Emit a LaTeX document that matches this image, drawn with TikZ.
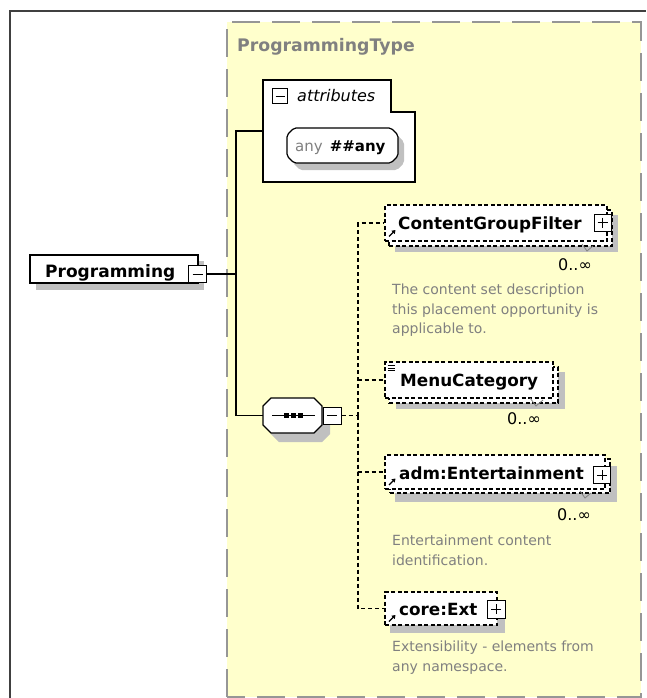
\documentclass[tikz,border=0pt]{standalone}
\usepackage{fontspec}
\setmainfont{DejaVu Sans}
\usetikzlibrary{calc,arrows.meta}
\definecolor{ylw}{RGB}{255,255,204}
\definecolor{shd}{RGB}{192,192,192}
\definecolor{gtx}{RGB}{128,128,128}
\definecolor{frm}{RGB}{150,150,150}
\newcommand\xoct[5]{({#1+#5},#2) -- ({#3-#5},#2) -- (#3,{#2+#5}) -- (#3,{#4-#5}) -- ({#3-#5},#4) -- ({#1+#5},#4) -- (#1,{#4-#5}) -- (#1,{#2+#5}) -- cycle}
\tikzset{
  box/.style={draw=black, fill=white, line width=1.2pt, inner sep=0pt, rectangle},
  optbox/.style={box, dash pattern=on 4pt off 2.5pt},
  ename/.style={font=\fontsize{16.8}{18}\selectfont\bfseries, text=black, inner sep=0pt, anchor=base west},
  desc/.style={font=\fontsize{14}{19.5}\selectfont, text=gtx, align=left, inner sep=0pt, anchor=north west},
  card/.style={font=\fontsize{16}{18}\selectfont, text=black, inner sep=0pt, anchor=base west},
  conn/.style={draw=black, line width=1.2pt},
  dconn/.style={conn, dash pattern=on 4pt off 3pt},
  pm/.style={draw=black, fill=white, line width=1pt, inner sep=0pt, rectangle},
  pmline/.style={draw=black, line width=1pt},
  icon/.style={line width=1.3pt, -{Triangle[length=3.5pt,width=4.5pt]}},
  tick/.style={draw=gray, line width=0.8pt},
}
\begin{document}
\begin{tikzpicture}[x=1pt,y=-1pt]
\useasboundingbox (0,0) rectangle (646,698);
\fill[white] (0,0) rectangle (646,698);
% outer frame
\draw[black!75, line width=1.5pt] (10,698) -- (10,11) -- (646,11);
% complex type area
\fill[ylw] (227,22) rectangle (641,697);
\draw[frm, line width=1.5pt, dash pattern=on 28pt off 12pt] (227,697) -- (227,22) -- (641,22) -- (641,697) -- cycle;
\node[font=\fontsize{17.3}{19}\selectfont\bfseries, text=gtx, anchor=base west, inner sep=0pt] (title) at (237,52) {ProgrammingType};

% attributes box
\draw[fill=white, line width=1.2pt] (263,80) -- (391,80) -- (391,112) -- (415,112) -- (415,182) -- (263,182) -- cycle;
\node[inner sep=0pt, minimum width=152pt, minimum height=102pt] (attr) at (339,131) {};
\node[pm, minimum width=15pt, minimum height=15pt] (attrm) at (280,96.5) {};
\draw[pmline] ($(attrm.center)+(-4.5,0)$) -- ($(attrm.center)+(4.5,0)$);
\node[font=\fontsize{16}{18}\selectfont\itshape, anchor=base west, inner sep=0pt] (attrt) at (297,102) {attributes};
% any ##any
\fill[shd, rounded corners=2pt] \xoct{293}{135}{404}{170}{7};
\draw[fill=white, line width=1.2pt, rounded corners=2pt] \xoct{287}{128}{398}{163}{7};
\node[font=\fontsize{15}{17}\selectfont, anchor=base west, inner sep=0pt] (anyt) at (295,151) {\textcolor{gtx}{any}\hspace{7pt}\textbf{\#\#any}};

% Programming element
\fill[shd] (36,261) rectangle (204,290);
\node[box, minimum width=168pt, minimum height=28pt] (prog) at (114,269) {};
\node[font=\fontsize{17}{18}\selectfont\bfseries, anchor=base west, inner sep=0pt] (progt) at (45,277) {Programming};
\node[pm, minimum width=18pt, minimum height=17pt] (progm) at (197.5,274) {};
\draw[pmline] ($(progm.center)+(-5,0)$) -- ($(progm.center)+(5,0)$);

% sequence compositor
\fill[shd] \xoct{271}{407}{330}{442}{8};
\draw[fill=white, line width=1.2pt] \xoct{263}{398}{322}{433}{8};
\node[inner sep=0pt, minimum width=59pt, minimum height=35pt] (seq) at (292.5,415.5) {};
\draw[line width=1.2pt] (272,415.5) -- (315,415.5);
\foreach \cx in {286,293,300} \fill (\cx-2.5,413) rectangle (\cx+2.5,418);
\node[pm, minimum width=18pt, minimum height=17pt] (seqm) at (332,415.5) {};
\draw[pmline] ($(seqm.center)+(-5,0)$) -- ($(seqm.center)+(5,0)$);

% tree connectors
\coordinate (tj) at (236,274);
\draw[conn] (progm.east) -- (tj);
\draw[conn] (attr.west) -| (tj) |- (seq.west);

% ContentGroupFilter
\fill[shd] (395,215) rectangle (618,252);
\node[optbox, minimum width=223pt, minimum height=36pt] (cgfb) at (500.5,228) {};
\node[optbox, minimum width=222pt, minimum height=36pt] (cgf) at (496,223) {};
\node[ename] (cgft) at (398,229.5) {ContentGroupFilter};
\node[pm, minimum width=17pt, minimum height=17pt] (cgfp) at (602.5,222.5) {};
\draw[pmline] ($(cgfp.center)+(-5,0)$) -- ($(cgfp.center)+(5,0)$) ($(cgfp.center)+(0,-5)$) -- ($(cgfp.center)+(0,5)$);
\draw[icon] (389,236.5) -- (395.5,230);
\draw[tick] (582,244) -- (587,251) -- (593,246);
\node[card] (cgfc) at (558,270) {0..∞};
\node[desc] (cgfd) at (392,284) {The content set description\\this placement opportunity is\\applicable to.};

% MenuCategory
\fill[shd] (396,372) rectangle (565,409);
\node[optbox, minimum width=169pt, minimum height=36pt] (menub) at (473.5,385) {};
\node[optbox, minimum width=168pt, minimum height=36pt] (menu) at (469,380) {};
\node[ename] (menut) at (400,386) {MenuCategory};
\draw[line width=0.8pt] (387.5,365.5) -- (395,365.5) (387.5,368) -- (395,368) (387.5,370.5) -- (395,370.5);
\draw[tick] (530,398) -- (536,406) -- (543,400);
\node[card] (menuc) at (507,424) {0..∞};

% adm:Entertainment
\fill[shd] (395,466) rectangle (617,502);
\node[optbox, minimum width=220pt, minimum height=34pt] (admb) at (500,476) {};
\node[optbox, minimum width=220pt, minimum height=34pt] (adm) at (495,472) {};
\node[ename] (admt) at (399,479) {adm:Entertainment};
\node[pm, minimum width=17pt, minimum height=17pt] (admp) at (602,475) {};
\draw[pmline] ($(admp.center)+(-5,0)$) -- ($(admp.center)+(5,0)$) ($(admp.center)+(0,-5)$) -- ($(admp.center)+(0,5)$);
\draw[icon] (389,485) -- (395.5,478.5);
\draw[tick] (580,491) -- (585,498) -- (591,493);
\node[card] (admc) at (557,520) {0..∞};
\node[desc] (admd) at (392,535) {Entertainment content\\identification.};

% core:Ext
\fill[shd] (390,600) rectangle (505,633);
\node[optbox, minimum width=112pt, minimum height=33pt] (ext) at (441,608.5) {};
\node[ename] (extt) at (399,615) {core:Ext};
\node[pm, minimum width=18pt, minimum height=18pt] (extp) at (496,609) {};
\draw[pmline] ($(extp.center)+(-5,0)$) -- ($(extp.center)+(5,0)$) ($(extp.center)+(0,-5)$) -- ($(extp.center)+(0,5)$);
\draw[icon] (389,621.5) -- (395.5,615);
\node[desc] (extd) at (392,641) {Extensibility - elements from\\any namespace.};

% sequence connectors
\coordinate (sv) at (358,415.5);
\draw[dconn] (seqm.east) -- (sv);
\draw[dconn] (sv) |- (cgf.west);
\draw[dconn] (sv) |- (menu.west);
\draw[dconn] (sv) |- (adm.west);
\draw[dconn] (sv) |- (ext.west);
\end{tikzpicture}
\end{document}
